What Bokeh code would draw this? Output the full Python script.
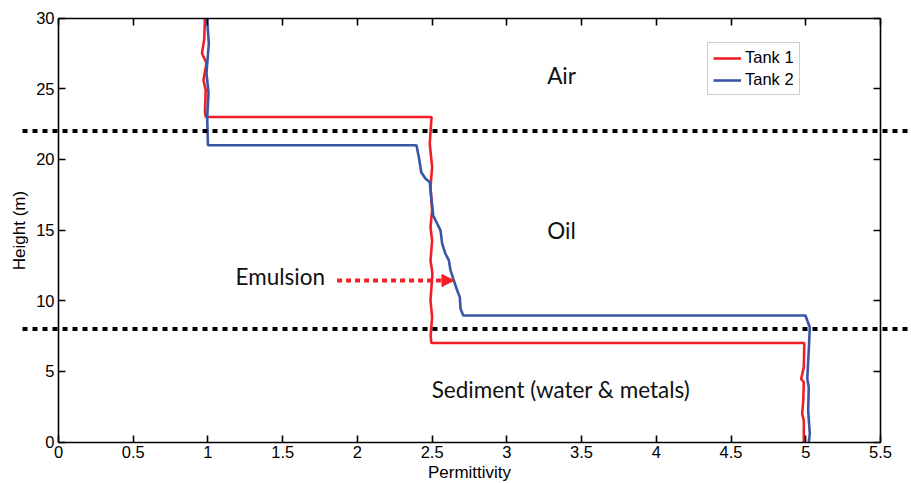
from bokeh.plotting import figure
from bokeh.models import (Label, Arrow, NormalHead, LinearAxis, FixedTicker,
                          NumeralTickFormatter, Range1d, Legend, LegendItem,
                          CustomJSTickFormatter)
from bokeh.embed import file_html
from bokeh.resources import INLINE

# ---------------- data ----------------
tank1_perm = [0.98, 0.975, 0.96, 0.99, 0.97, 0.985, 0.98, 0.985,
              2.496, 2.484, 2.50, 2.489, 2.50, 2.489, 2.50, 2.489, 2.502, 2.489, 2.50, 2.49, 2.495,
              4.99, 4.987, 4.969, 4.987, 4.983, 4.976, 4.987, 4.987]
tank1_height = [30.0, 28.5, 27.5, 26.8, 25.6, 24.9, 23.4, 23.0,
                23.0, 21.1, 19.45, 18.03, 16.38, 15.2, 14.25, 12.84, 11.93, 10.01, 8.83, 7.5, 7.0,
                7.0, 5.3, 4.46, 4.23, 2.9, 2.0, 1.5, 0.0]

tank2_perm = [1.0, 0.995, 1.006, 0.99, 1.004, 0.995, 0.999, 1.0,
              2.395, 2.411, 2.427, 2.456, 2.484, 2.494, 2.507, 2.534, 2.556, 2.567, 2.589,
              2.612, 2.623, 2.645, 2.668, 2.685, 2.690, 2.708,
              4.998, 5.01, 5.027, 5.02, 5.01, 5.02, 5.016, 5.027, 5.02]
tank2_height = [30.0, 29.8, 28.2, 26.1, 24.7, 23.0, 21.3, 21.0,
                21.0, 20.16, 19.09, 18.63, 18.39, 17.33, 16.03, 15.44, 14.97, 14.03, 13.32,
                12.85, 12.14, 11.43, 10.72, 10.25, 9.43, 8.95,
                8.95, 8.6, 8.12, 6.48, 4.47, 3.88, 2.23, 0.58, 0.0]

layer_boundaries = [22, 8]
x_ticks = [0, 0.5, 1, 1.5, 2, 2.5, 3, 3.5, 4, 4.5, 5, 5.5]
y_ticks = [0, 5, 10, 15, 20, 25, 30]
x_limits = (0, 5.5)
y_limits = (0, 30)

region_labels = ["Air", "Oil", "Sediment (water & metals)"]
region_label_x = [3.366, 3.366, 3.362]
region_label_y = [25.94, 15.0, 3.73]

emulsion_label = "Emulsion"
emulsion_label_pos = (1.184, 11.68)
emulsion_arrow_from = (1.864, 11.43)
emulsion_arrow_to = (2.646, 11.43)

RED = "#ee1f25"
BLUE = "#3a55a6"

# ---------------- layout ----------------
W, H = 911, 483
BOX_L, BOX_R = 58.0, 880.0      # pixel position of x = 0 and x = 5.5
BOX_T, BOX_B = 17.5, 441.5      # pixel position of y = 30 and y = 0
DOT_LEFT = 22.0                 # pixel where the dotted boundary lines begin
sx = (BOX_R - BOX_L) / (x_limits[1] - x_limits[0])
sy = (BOX_B - BOX_T) / (y_limits[1] - y_limits[0])
x_range = Range1d(x_limits[0] - BOX_L / sx, x_limits[1] + (W - BOX_R) / sx)
y_range = Range1d(y_limits[0] - (H - BOX_B) / sy, y_limits[1] + BOX_T / sy)
dot_x0 = x_limits[0] - (BOX_L - DOT_LEFT) / sx
dot_x1 = x_range.end

p = figure(width=W, height=H, x_range=x_range, y_range=y_range,
           output_backend="svg", toolbar_location=None,
           x_axis_location=None, y_axis_location=None,
           min_border=0, min_border_left=0, min_border_right=0,
           min_border_top=0, min_border_bottom=0)
p.xgrid.visible = False
p.ygrid.visible = False
p.outline_line_color = None
p.background_fill_color = "white"
p.border_fill_color = "white"

TICK_FONT = "Liberation Sans"
TICK_LEN = 7


def make_axis(ticks, loc, bounds, show_labels, formatter=None, label=None):
    ax = LinearAxis(ticker=FixedTicker(ticks=ticks), fixed_location=loc, bounds=bounds,
                    major_tick_in=TICK_LEN, major_tick_out=0,
                    minor_tick_line_color=None,
                    axis_line_color="black", axis_line_width=1.6,
                    major_tick_line_color="black", major_tick_line_width=1.6,
                    major_label_text_font=TICK_FONT,
                    major_label_text_font_size="16.5px",
                    major_label_text_color="black",
                    major_label_standoff=4)
    if formatter is not None:
        ax.formatter = formatter
    if not show_labels:
        ax.formatter = CustomJSTickFormatter(code="return ''")
    if label is not None:
        ax.axis_label = label
        ax.axis_label_text_font = TICK_FONT
        ax.axis_label_text_font_size = "17px"
        ax.axis_label_text_font_style = "normal"
        ax.axis_label_text_color = "black"
        ax.axis_label_standoff = 4
    return ax


left_ax = make_axis(y_ticks, x_limits[0], y_limits, True, label="Height (m)")
right_ax = make_axis(y_ticks, x_limits[1], y_limits, False)
bottom_ax = make_axis(x_ticks, y_limits[0], x_limits, True,
                      formatter=NumeralTickFormatter(format="0.[0]"), label="Permittivity")
top_ax = make_axis(x_ticks, y_limits[1], x_limits, False)
bottom_ax.major_label_standoff = 4
bottom_ax.axis_label_standoff = 1

p.add_layout(left_ax, "left")
p.add_layout(right_ax, "right")
p.add_layout(bottom_ax, "below")
p.add_layout(top_ax, "above")

# ---------------- data lines ----------------
r1 = p.line(tank1_perm, tank1_height, line_color=RED, line_width=2.6)
r2 = p.line(tank2_perm, tank2_height, line_color=BLUE, line_width=2.6)

# ---------------- layer boundaries ----------------
p.segment(x0=[dot_x0] * len(layer_boundaries), x1=[dot_x1] * len(layer_boundaries),
          y0=layer_boundaries, y1=layer_boundaries,
          line_color="black", line_width=4, line_dash="5 5")

# ---------------- annotations ----------------
TEXT_FONT = "Lato"
TEXT_SIZE = "22.5px"
for t, lx, ly in zip(region_labels, region_label_x, region_label_y):
    p.add_layout(Label(x=lx, y=ly, text=t, text_align="center", text_baseline="alphabetic",
                       text_font=TEXT_FONT, text_font_size=TEXT_SIZE, text_color="#111111"))

p.add_layout(Label(x=emulsion_label_pos[0], y=emulsion_label_pos[1], text=emulsion_label,
                   text_align="left", text_baseline="alphabetic",
                   text_font=TEXT_FONT, text_font_size=TEXT_SIZE, text_color="#111111"))

p.add_layout(Arrow(x_start=emulsion_arrow_from[0], y_start=emulsion_arrow_from[1],
                   x_end=emulsion_arrow_to[0], y_end=emulsion_arrow_to[1],
                   line_color=RED, line_width=4, line_dash="5 4",
                   end=NormalHead(size=12, fill_color=RED, line_color=RED, line_width=1)))

# ---------------- legend ----------------
legend = Legend(items=[LegendItem(label="Tank 1", renderers=[r1]),
                       LegendItem(label="Tank 2", renderers=[r2])],
                location=(707, H - 95),
                label_text_font=TICK_FONT, label_text_font_size="16.5px",
                label_text_color="black",
                glyph_width=28, glyph_height=18, label_height=18,
                label_standoff=4, padding=5, spacing=3, margin=0,
                border_line_color="#999999", border_line_width=1,
                background_fill_color="white", background_fill_alpha=1.0)
p.add_layout(legend)

open("out.html", "w").write(file_html(p, INLINE))
